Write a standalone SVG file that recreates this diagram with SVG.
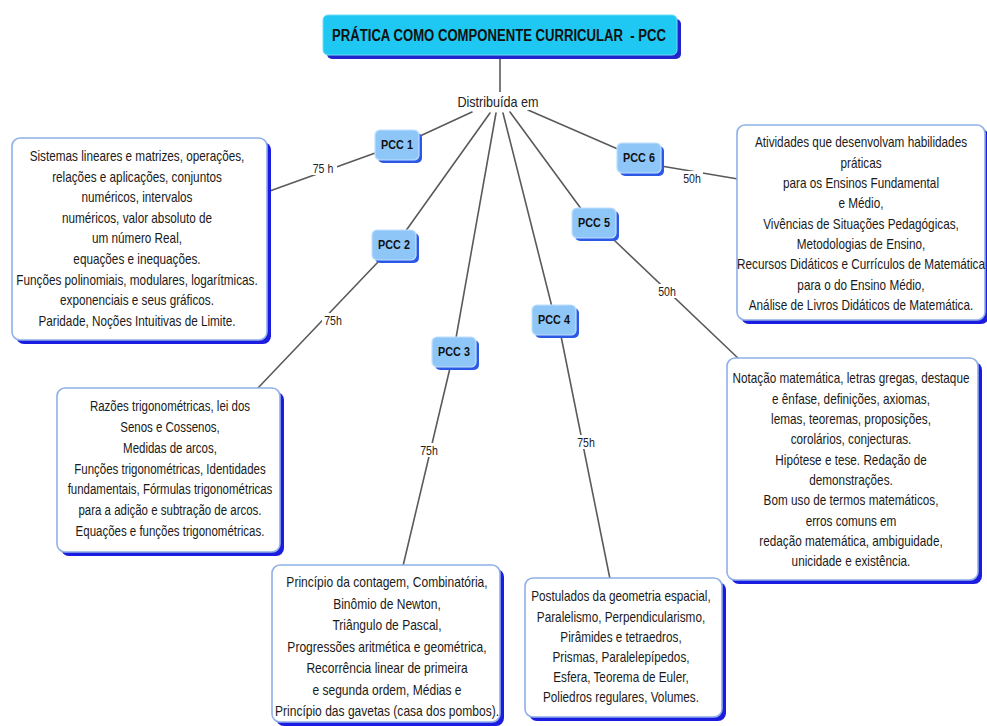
<svg xmlns="http://www.w3.org/2000/svg" width="987" height="726" viewBox="0 0 987 726">
  <style>
    .edge { stroke: #5a5a5a; stroke-width: 1.6; fill: none; stroke-linecap: round; }
    .lbl { font-family: "Liberation Sans", Arial, sans-serif; font-size: 12px; fill: #222; text-anchor: middle; }
    .lblbg { fill: #ffffff; }
    .pcc-sh { fill: #2c58e6; }
    .pcc { fill: #8ec6f8; stroke: #bfe0ff; stroke-width: 1.2; }
    .pcc-t { font-family: "Liberation Sans", Arial, sans-serif; font-size: 12px; font-weight: bold; fill: #111; text-anchor: middle; }
    .box-sh { fill: #1c1ce0; }
    .box { fill: #ffffff; stroke: #8fb0e8; stroke-width: 1.6; }
    .box-t { font-family: "Liberation Sans", Arial, sans-serif; font-size: 14px; fill: #1a1a1a; text-anchor: middle; }
    .title-sh { fill: #2424cc; }
    .title { fill: #1ec8f2; stroke: #6fdcf8; stroke-width: 1; }
    .title-t { font-family: "Liberation Sans", Arial, sans-serif; font-size: 16px; font-weight: bold; fill: #111; text-anchor: middle; }
    .link-t { font-family: "Liberation Sans", Arial, sans-serif; font-size: 14px; fill: #222; text-anchor: middle; }
  </style>

  <rect width="987" height="726" fill="#ffffff"/>

  <!-- connectors -->
  <g id="connectors">
    <line class="edge" x1="500" y1="55" x2="500" y2="92"/>
    <!-- fan from "Distribuída em" -->
    <line class="edge" x1="472" y1="112" x2="420" y2="136"/>
    <line class="edge" x1="490" y1="113" x2="405" y2="232"/>
    <line class="edge" x1="496" y1="113" x2="456" y2="338"/>
    <line class="edge" x1="503" y1="113" x2="552" y2="307"/>
    <line class="edge" x1="510" y1="112" x2="582" y2="210"/>
    <line class="edge" x1="528" y1="110" x2="620" y2="150"/>
    <!-- PCC 1 -> box -->
    <line class="edge" x1="378" y1="152" x2="267" y2="192"/>
    <!-- PCC 2 -> box -->
    <line class="edge" x1="378" y1="262" x2="257" y2="389"/>
    <!-- PCC 3 -> box -->
    <line class="edge" x1="450" y1="368" x2="403" y2="566"/>
    <!-- PCC 4 -> box -->
    <line class="edge" x1="561" y1="336" x2="610" y2="579"/>
    <!-- PCC 5 -> box -->
    <line class="edge" x1="614" y1="240" x2="740" y2="360"/>
    <!-- PCC 6 -> box -->
    <line class="edge" x1="661" y1="166" x2="738" y2="179"/>

    <!-- hour labels -->
    <rect class="lblbg" x="309" y="161" width="28" height="14"/>
    <g transform="translate(323 0) scale(0.88 1)"><text class="lbl" x="0" y="173">75 h</text></g>
    <rect class="lblbg" x="322" y="313" width="22" height="14"/>
    <g transform="translate(333 0) scale(0.88 1)"><text class="lbl" x="0" y="325">75h</text></g>
    <rect class="lblbg" x="418" y="443" width="22" height="14"/>
    <g transform="translate(429 0) scale(0.88 1)"><text class="lbl" x="0" y="455">75h</text></g>
    <rect class="lblbg" x="575" y="435" width="22" height="14"/>
    <g transform="translate(586 0) scale(0.88 1)"><text class="lbl" x="0" y="447">75h</text></g>
    <rect class="lblbg" x="656" y="284" width="22" height="14"/>
    <g transform="translate(667 0) scale(0.88 1)"><text class="lbl" x="0" y="296">50h</text></g>
    <rect class="lblbg" x="681" y="171" width="22" height="14"/>
    <g transform="translate(692 0) scale(0.88 1)"><text class="lbl" x="0" y="183">50h</text></g>
  </g>

  <!-- root -->
  <g id="title">
    <rect class="title-sh" x="327" y="19" width="354" height="40" rx="5"/>
    <rect class="title" x="323" y="15" width="354" height="40" rx="5"/>
    <g transform="translate(499 0) scale(0.82 1)"><text class="title-t" x="0" y="41">PRÁTICA COMO COMPONENTE CURRICULAR &#160;- PCC</text></g>
  </g>

  <g id="distribuida">
    <rect class="lblbg" x="454" y="92" width="90" height="18"/>
    <g transform="translate(498 0) scale(0.9 1)"><text class="link-t" x="0" y="107">Distribuída em</text></g>
  </g>

  <!-- PCC nodes -->
  <g id="pcc1">
    <rect class="pcc-sh" x="378" y="133" width="44" height="30" rx="5"/>
    <rect class="pcc" x="375" y="130" width="44" height="30" rx="5"/>
    <g transform="translate(397 0) scale(0.9 1)"><text class="pcc-t" x="0" y="149">PCC 1</text></g>
  </g>
  <g id="pcc2">
    <rect class="pcc-sh" x="375" y="233" width="44" height="30" rx="5"/>
    <rect class="pcc" x="372" y="230" width="44" height="30" rx="5"/>
    <g transform="translate(394 0) scale(0.9 1)"><text class="pcc-t" x="0" y="249">PCC 2</text></g>
  </g>
  <g id="pcc3">
    <rect class="pcc-sh" x="435" y="340" width="44" height="30" rx="5"/>
    <rect class="pcc" x="432" y="337" width="44" height="30" rx="5"/>
    <g transform="translate(454 0) scale(0.9 1)"><text class="pcc-t" x="0" y="356">PCC 3</text></g>
  </g>
  <g id="pcc4">
    <rect class="pcc-sh" x="535" y="308" width="44" height="30" rx="5"/>
    <rect class="pcc" x="532" y="305" width="44" height="30" rx="5"/>
    <g transform="translate(554 0) scale(0.9 1)"><text class="pcc-t" x="0" y="324">PCC 4</text></g>
  </g>
  <g id="pcc5">
    <rect class="pcc-sh" x="575" y="211" width="44" height="30" rx="5"/>
    <rect class="pcc" x="572" y="208" width="44" height="30" rx="5"/>
    <g transform="translate(594 0) scale(0.9 1)"><text class="pcc-t" x="0" y="227">PCC 5</text></g>
  </g>
  <g id="pcc6">
    <rect class="pcc-sh" x="620" y="146" width="44" height="30" rx="5"/>
    <rect class="pcc" x="617" y="143" width="44" height="30" rx="5"/>
    <g transform="translate(639 0) scale(0.9 1)"><text class="pcc-t" x="0" y="162">PCC 6</text></g>
  </g>

  <!-- content boxes -->
  <g id="box1">
    <rect class="box-sh" x="16" y="142" width="255" height="202" rx="8"/>
    <rect class="box" x="12" y="138" width="255" height="202" rx="8"/>
    <g transform="translate(137 0) scale(0.84 1)">
      <text class="box-t" x="0" y="161">Sistemas lineares e matrizes, operações,</text>
      <text class="box-t" x="0" y="181.6">relações e aplicações, conjuntos</text>
      <text class="box-t" x="0" y="202.2">numéricos, intervalos</text>
      <text class="box-t" x="0" y="222.8">numéricos, valor absoluto de</text>
      <text class="box-t" x="0" y="243.4">um número Real,</text>
      <text class="box-t" x="0" y="264">equações e inequações.</text>
      <text class="box-t" x="0" y="284.6">Funções polinomiais, modulares, logarítmicas.</text>
      <text class="box-t" x="0" y="305.2">exponenciais e seus gráficos.</text>
      <text class="box-t" x="0" y="325.8">Paridade, Noções Intuitivas de Limite.</text>
    </g>
  </g>

  <g id="box2">
    <rect class="box-sh" x="61" y="392" width="223" height="164" rx="8"/>
    <rect class="box" x="57" y="388" width="223" height="164" rx="8"/>
    <g transform="translate(170 0) scale(0.82 1)">
      <text class="box-t" x="0" y="411.5" font-size="13">Razões trigonométricas, lei dos</text>
      <text class="box-t" x="0" y="432.2" font-size="13">Senos e Cossenos,</text>
      <text class="box-t" x="0" y="452.9" font-size="13">Medidas de arcos,</text>
      <text class="box-t" x="0" y="473.6" font-size="13">Funções trigonométricas, Identidades</text>
      <text class="box-t" x="0" y="494.3" font-size="13">fundamentais, Fórmulas trigonométricas</text>
      <text class="box-t" x="0" y="515" font-size="13">para a adição e subtração de arcos.</text>
      <text class="box-t" x="0" y="535.7" font-size="13">Equações e funções trigonométricas.</text>
    </g>
  </g>

  <g id="box3">
    <rect class="box-sh" x="276" y="569" width="228" height="157" rx="8"/>
    <rect class="box" x="272" y="565" width="228" height="157" rx="8"/>
    <g transform="translate(387 0) scale(0.86 1)">
      <text class="box-t" x="0" y="587.5">Princípio da contagem, Combinatória,</text>
      <text class="box-t" x="0" y="609">Binômio de Newton,</text>
      <text class="box-t" x="0" y="630.5">Triângulo de Pascal,</text>
      <text class="box-t" x="0" y="652">Progressões aritmética e geométrica,</text>
      <text class="box-t" x="0" y="673.5">Recorrência linear de primeira</text>
      <text class="box-t" x="0" y="695">e segunda ordem, Médias e</text>
      <text class="box-t" x="0" y="716.5">Princípio das gavetas (casa dos pombos).</text>
    </g>
  </g>

  <g id="box4">
    <rect class="box-sh" x="529" y="582" width="197" height="139" rx="8"/>
    <rect class="box" x="525" y="578" width="197" height="139" rx="8"/>
    <g transform="translate(621 0) scale(0.84 1)">
      <text class="box-t" x="0" y="601.5">Postulados da geometria espacial,</text>
      <text class="box-t" x="0" y="621.7">Paralelismo, Perpendicularismo,</text>
      <text class="box-t" x="0" y="641.9">Pirâmides e tetraedros,</text>
      <text class="box-t" x="0" y="662.1">Prismas, Paralelepípedos,</text>
      <text class="box-t" x="0" y="682.3">Esfera, Teorema de Euler,</text>
      <text class="box-t" x="0" y="702.5">Poliedros regulares, Volumes.</text>
    </g>
  </g>

  <g id="box5">
    <rect class="box-sh" x="731" y="362" width="251" height="222" rx="8"/>
    <rect class="box" x="727" y="358" width="251" height="222" rx="8"/>
    <g transform="translate(851 0) scale(0.84 1)">
      <text class="box-t" x="0" y="383.5">Notação matemática, letras gregas, destaque</text>
      <text class="box-t" x="0" y="403.8">e ênfase, definições, axiomas,</text>
      <text class="box-t" x="0" y="424.1">lemas, teoremas, proposições,</text>
      <text class="box-t" x="0" y="444.4">corolários, conjecturas.</text>
      <text class="box-t" x="0" y="464.7">Hipótese e tese. Redação de</text>
      <text class="box-t" x="0" y="485">demonstrações.</text>
      <text class="box-t" x="0" y="505.3">Bom uso de termos matemáticos,</text>
      <text class="box-t" x="0" y="525.6">erros comuns em</text>
      <text class="box-t" x="0" y="545.9">redação matemática, ambiguidade,</text>
      <text class="box-t" x="0" y="566.2">unicidade e existência.</text>
    </g>
  </g>

  <g id="box6">
    <rect class="box-sh" x="741" y="129" width="248" height="195" rx="8"/>
    <rect class="box" x="737" y="125" width="248" height="195" rx="8"/>
    <g transform="translate(861 0) scale(0.84 1)">
      <text class="box-t" x="0" y="147.5">Atividades que desenvolvam habilidades</text>
      <text class="box-t" x="0" y="167.8">práticas</text>
      <text class="box-t" x="0" y="188.1">para os Ensinos Fundamental</text>
      <text class="box-t" x="0" y="208.4">e Médio,</text>
      <text class="box-t" x="0" y="228.7">Vivências de Situações Pedagógicas,</text>
      <text class="box-t" x="0" y="249">Metodologias de Ensino,</text>
      <text class="box-t" x="0" y="269.3">Recursos Didáticos e Currículos de Matemática</text>
      <text class="box-t" x="0" y="289.6">para o do Ensino Médio,</text>
      <text class="box-t" x="0" y="309.9">Análise de Livros Didáticos de Matemática.</text>
    </g>
  </g>
</svg>
